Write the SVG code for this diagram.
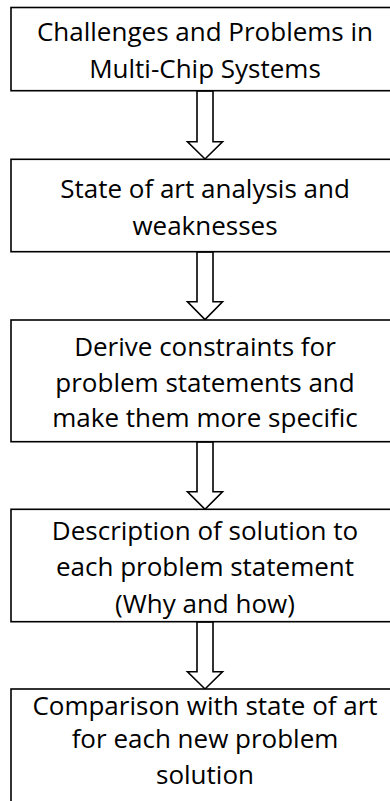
<svg xmlns="http://www.w3.org/2000/svg" width="390" height="801" viewBox="0 0 390 801">
  <style>
    .box { fill: #ffffff; stroke: #000000; stroke-width: 1.6; }
    .arrow { fill: #ffffff; stroke: #000000; stroke-width: 1.6; stroke-linejoin: miter; }
    .label { font-family: "Open Sans", "Liberation Sans", sans-serif; font-size: 26px; fill: #000000; text-anchor: middle; }
  </style>
  <rect width="390" height="801" fill="#ffffff"/>

  <!-- hollow block arrows between the steps -->
  <g id="connectors">
    <polygon class="arrow" points="197,91 213,91 213,141.7 222.5,141.7 205,159 187.5,141.7 197,141.7"/>
    <polygon class="arrow" points="197,252 213,252 213,301.7 222.5,301.7 205,319.5 187.5,301.7 197,301.7"/>
    <polygon class="arrow" points="197,442 213,442 213,491.7 222.5,491.7 205,509.3 187.5,491.7 197,491.7"/>
    <polygon class="arrow" points="197,622 213,622 213,671.7 222.5,671.7 205,689 187.5,671.7 197,671.7"/>
  </g>

  <g id="node-challenges">
    <rect class="box" x="11" y="7.5" width="390" height="83.2"/>
    <text class="label" x="205" y="41">Challenges and Problems in</text>
    <text class="label" x="205" y="78">Multi-Chip Systems</text>
  </g>

  <g id="node-state-of-art">
    <rect class="box" x="11" y="159.3" width="390" height="92.4"/>
    <text class="label" x="205" y="198">State of art analysis and</text>
    <text class="label" x="205" y="234.5">weaknesses</text>
  </g>

  <g id="node-constraints">
    <rect class="box" x="11" y="320" width="390" height="121.7"/>
    <text class="label" x="205" y="355.5">Derive constraints for</text>
    <text class="label" x="205" y="391.5">problem statements and</text>
    <text class="label" x="205" y="427">make them more specific</text>
  </g>

  <g id="node-solution">
    <rect class="box" x="11" y="509.3" width="390" height="112.4"/>
    <text class="label" x="205" y="539.5">Description of solution to</text>
    <text class="label" x="205" y="576">each problem statement</text>
    <text class="label" x="205" y="613">(Why and how)</text>
  </g>

  <g id="node-comparison">
    <rect class="box" x="11" y="689" width="390" height="130"/>
    <text class="label" x="205" y="714.5">Comparison with state of art</text>
    <text class="label" x="205" y="748">for each new problem</text>
    <text class="label" x="205" y="784">solution</text>
  </g>
</svg>
